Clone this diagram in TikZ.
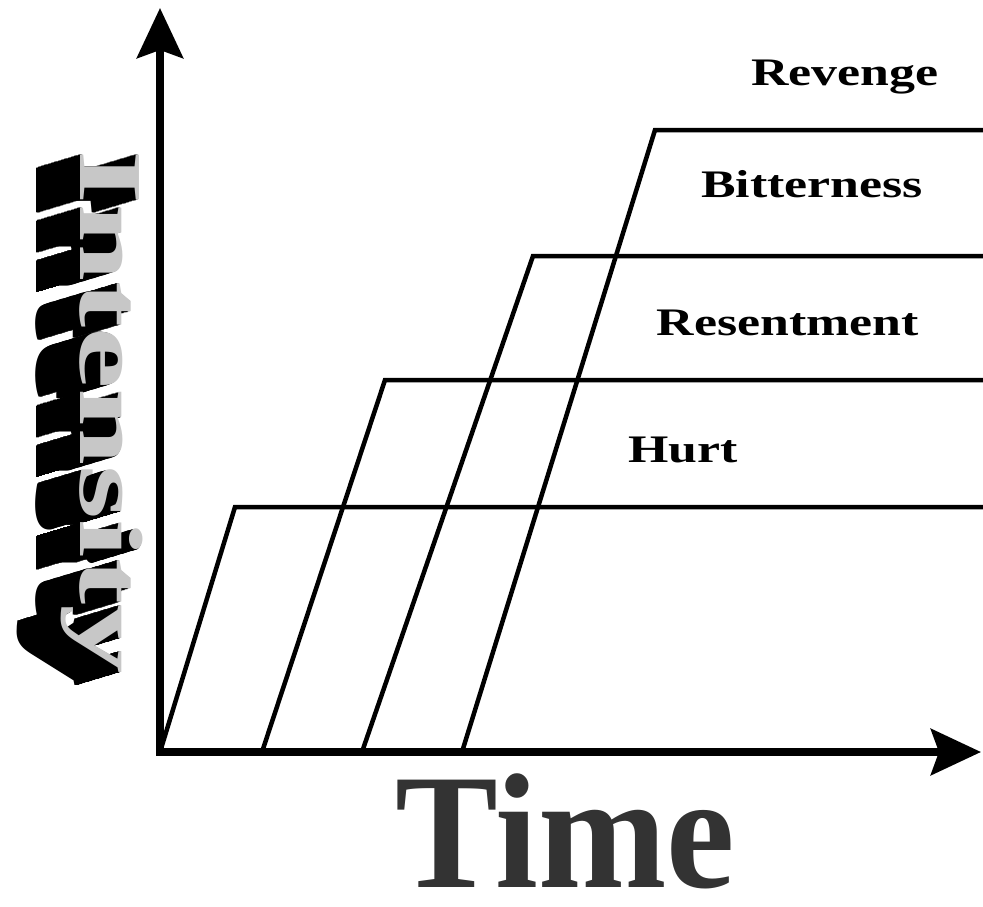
\documentclass[tikz,border=0pt]{standalone}
\usepackage{fontspec}
\setmainfont{Liberation Serif}
\usepackage{graphicx}
\usetikzlibrary{arrows.meta}
\tikzstyle{stair} = [draw, line width=4.5pt, line join=miter]
\tikzstyle{lbl} = [anchor=base, inner sep=0pt, font=\fontsize{39}{45}\selectfont\bfseries]
\tikzstyle{wordart} = [anchor=base, rotate=-90, inner sep=0pt, font=\fontsize{90}{90}\selectfont\bfseries]
\newcommand{\lblbox}[1]{\scalebox{1.33}[1]{#1}}
\newcommand{\intbox}{\scalebox{1.54}[1]{Intensity}}

\begin{document}
\begin{tikzpicture}[x=1pt, y=-1pt, >={Stealth[length=50pt,width=46pt,inset=8pt]}]
				\useasboundingbox (0,0) rectangle (983,907);
				%Stufen
				\foreach \x/\cx/\cy [count=\i] in {160/235/507, 262/385/380, 362/533/256, 462/655/130} {
					\coordinate (s\i) at (\x,752);
					\coordinate (k\i) at (\cx,\cy);
					\coordinate (e\i) at (983,\cy);
					\draw[stair] (s\i) -- (k\i) -- (e\i);
				}
				%Achsen
				\coordinate (ytip) at (160,8);
				\coordinate (O) at (160,752);
				\coordinate (xtip) at (981,752);
				\draw[line width=8pt, <->, line join=miter] (ytip) -- (O) -- (xtip);
				\node[lbl] (revenge) at (845,85) {\lblbox{Revenge}};
				\node[lbl] (bitterness) at (812,197) {\lblbox{Bitterness}};
				\node[lbl] (resentment) at (788,335) {\lblbox{Resentment}};
				\node[lbl] (hurt) at (683,462) {\lblbox{Hurt}};
				%WordArt
				\foreach \d in {44,43,...,1}
					\node[wordart, black] at ({80-\d},{412+0.3*\d}) {\intbox};
				\node[wordart, black!22] (intensity) at (80,412) {\intbox};
				\node[anchor=base, inner sep=0pt, black!80, font=\fontsize{164}{164}\selectfont\bfseries] (time) at (565,887) {\scalebox{0.94}[1]{Time}};
			\end{tikzpicture}
\end{document}
